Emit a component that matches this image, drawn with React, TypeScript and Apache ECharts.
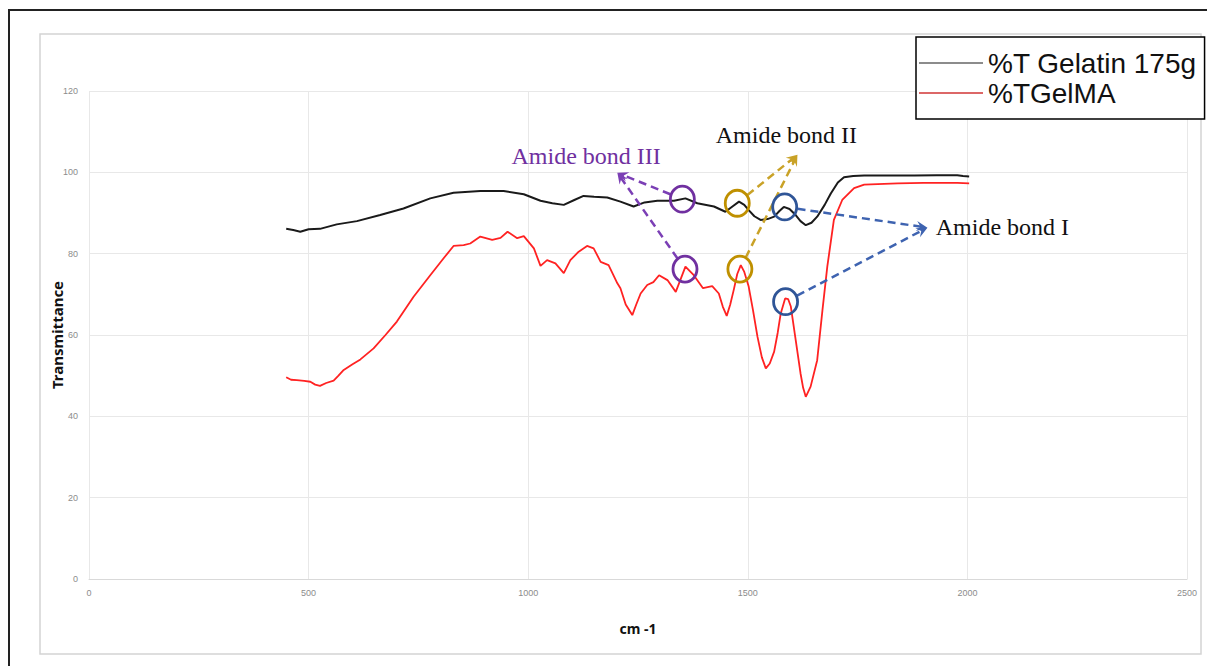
import React, { useEffect, useRef } from "react";
import * as echarts from "echarts";

// Wavenumber (cm-1) vs transmittance readings
const gelatin: [number, number][] = [
  [449, 86.1], [465, 85.8], [481, 85.4], [500, 86.0], [526, 86.1], [564, 87.2], [610, 88.0],
  [663, 89.5], [716, 91.1], [777, 93.6], [830, 95.0], [891, 95.4], [944, 95.4], [990, 94.6],
  [1028, 93.0], [1055, 92.4], [1081, 92.0], [1105, 93.2], [1126, 94.2], [1150, 94.0], [1180, 93.8],
  [1210, 92.8], [1240, 91.6], [1265, 92.6], [1294, 93.0], [1332, 93.0], [1358, 93.6], [1385, 92.4],
  [1423, 91.6], [1449, 90.3], [1465, 91.6], [1480, 92.8], [1492, 92.0], [1502, 90.7], [1515, 89.2],
  [1529, 88.3], [1545, 88.5], [1560, 89.1], [1572, 90.5], [1582, 91.5], [1595, 91.0], [1609, 89.5],
  [1620, 88.0], [1632, 87.0], [1645, 87.6], [1658, 89.1], [1675, 92.0], [1689, 94.8], [1705, 97.5],
  [1719, 98.8], [1740, 99.1], [1765, 99.2], [1820, 99.2], [1879, 99.2], [1930, 99.3], [1977, 99.3],
  [1990, 99.1], [2004, 99.0],
];

const gelma: [number, number][] = [
  [449, 49.6], [460, 49.0], [473, 48.9], [490, 48.7], [504, 48.5], [515, 47.8], [526, 47.5],
  [540, 48.2], [557, 48.8], [568, 50.0], [580, 51.4], [600, 52.8], [618, 54.0], [648, 56.7],
  [675, 60.0], [701, 63.3], [739, 69.4], [777, 74.7], [807, 78.8], [830, 81.9], [853, 82.1],
  [868, 82.5], [891, 84.2], [918, 83.4], [937, 83.9], [953, 85.4], [975, 83.8], [990, 84.3],
  [1013, 81.3], [1028, 77.0], [1043, 78.4], [1062, 77.6], [1081, 75.2], [1096, 78.4], [1115, 80.5],
  [1134, 81.9], [1149, 81.3], [1165, 78.0], [1183, 77.2], [1203, 72.7], [1210, 71.5], [1222, 67.5],
  [1237, 64.9], [1246, 67.5], [1256, 70.2], [1271, 72.3], [1285, 73.0], [1298, 74.7], [1317, 73.5],
  [1336, 70.6], [1348, 74.0], [1358, 76.8], [1377, 74.7], [1398, 71.5], [1419, 72.0], [1434, 70.2],
  [1443, 67.0], [1452, 64.7], [1460, 67.5], [1468, 71.1], [1476, 75.0], [1484, 77.2], [1492, 75.5],
  [1502, 71.9], [1512, 66.0], [1522, 59.6], [1532, 54.5], [1541, 51.8], [1550, 53.0], [1560, 55.9],
  [1568, 60.5], [1575, 65.3], [1585, 69.0], [1592, 68.8], [1598, 67.0], [1609, 58.8], [1620, 50.6],
  [1626, 47.0], [1632, 44.8], [1643, 47.3], [1658, 53.8], [1670, 66.1], [1681, 76.8], [1696, 88.3],
  [1715, 93.2], [1742, 96.1], [1765, 97.0], [1841, 97.3], [1900, 97.4], [1977, 97.4], [2004, 97.3],
];

const seriesNames = ["%T Gelatin 175g", "%TGelMA"];
const xAxisName = "cm -1";
const yAxisName = "Transmittance";

// Annotations in data coordinates
const annotLabels = ["Amide bond III", "Amide bond II", "Amide bond I"];
const annotTop: [number, number][] = [[1351, 93.4], [1476, 92.4], [1584, 91.5]];
const annotBottom: [number, number][] = [[1357, 76.2], [1482, 76.2], [1586, 68.2]];
const annotTip: [number, number][] = [[1203, 99.9], [1613, 104.3], [1909, 86.4]];
const annotLabelPos: [number, number][] = [[962, 104.0], [1427, 109.2], [1928, 86.6]];
const circleColors = ["#7030a0", "#bf9000", "#2f5597"];
const dashColors = ["#7b3fb5", "#c9a227", "#3e63b0"];
const labelColors = ["#7030a0", "#111111", "#111111"];

export default function App() {
  const ref = useRef<HTMLDivElement>(null);

  useEffect(() => {
    if (!ref.current) return;
    const chart = echarts.init(ref.current, undefined, { renderer: "svg" });
    const base: any = {
      animation: false,
      backgroundColor: "#ffffff",
      grid: { left: 89, right: 20, top: 91, bottom: 87, containLabel: false },
      legend: {
        show: true,
        orient: "vertical",
        left: 916,
        top: 37,
        padding: [11, 8, 11, 3],
        itemGap: 0,
        itemWidth: 64,
        itemHeight: 1.5,
        icon: "rect",
        borderColor: "#000",
        borderWidth: 1.5,
        backgroundColor: "#fff",
        textStyle: { fontSize: 28, fontFamily: "Liberation Sans", color: "#111", lineHeight: 30 },
      },
      xAxis: {
        type: "value",
        min: 0,
        max: 2500,
        interval: 500,
        name: xAxisName,
        nameLocation: "middle",
        nameGap: 42,
        nameMoveOverlap: false,
        nameTextStyle: { fontSize: 14, fontWeight: "bold", fontFamily: "Noto Sans", color: "#111" },
        axisLine: { show: true, lineStyle: { color: "#d9d9d9", width: 1 } },
        axisTick: { show: false },
        axisLabel: {
          color: "#8c8c8c",
          fontSize: 9,
          margin: 9,
          fontFamily: "Liberation Sans",
          formatter: (v: number) => String(v),
        },
        splitLine: { show: true, lineStyle: { color: "#e8e8e8", width: 1 } },
      },
      yAxis: {
        type: "value",
        min: 0,
        max: 120,
        interval: 20,
        name: yAxisName,
        nameLocation: "middle",
        nameGap: 25,
        nameMoveOverlap: false,
        nameRotate: 90,
        nameTextStyle: { fontSize: 15, fontWeight: "bold", fontFamily: "Noto Sans", color: "#111" },
        axisLine: { show: false },
        axisTick: { show: false },
        axisLabel: { color: "#8c8c8c", fontSize: 9, margin: 11, fontFamily: "Liberation Sans" },
        splitLine: { show: true, lineStyle: { color: "#e8e8e8", width: 1 } },
      },
      series: [
        {
          name: seriesNames[0],
          type: "line",
          data: gelatin,
          showSymbol: false,
          symbol: "none",
          lineStyle: { color: "#1a1a1a", width: 2 },
          itemStyle: { color: "#666666" },
          z: 3,
        },
        {
          name: seriesNames[1],
          type: "line",
          data: gelma,
          showSymbol: false,
          symbol: "none",
          lineStyle: { color: "#ff2222", width: 1.8 },
          itemStyle: { color: "#d03535" },
          z: 2,
        },
      ],
    };
    chart.setOption(base);

    const px = (p: [number, number]) => chart.convertToPixel({ gridIndex: 0 }, p) as number[];
    const graphics: any[] = [
      {
        type: "rect",
        silent: true,
        z: 0,
        shape: { x: 9, y: 10, width: 1240, height: 700 },
        style: { fill: "none", stroke: "#222", lineWidth: 2 },
      },
      {
        type: "rect",
        silent: true,
        z: 0,
        shape: { x: 40, y: 34, width: 1161, height: 620 },
        style: { fill: "none", stroke: "#d4d4d4", lineWidth: 1.5 },
      },
    ];

    for (let i = 0; i < annotLabels.length; i++) {
      const tip = px(annotTip[i]);
      const centers = [px(annotTop[i]), px(annotBottom[i])];
      for (const c of centers) {
        graphics.push({
          type: "ellipse",
          silent: true,
          z: 10,
          shape: { cx: c[0], cy: c[1], rx: 12, ry: 13 },
          style: { fill: "none", stroke: circleColors[i], lineWidth: 2.8 },
        });
        const dx = tip[0] - c[0];
        const dy = tip[1] - c[1];
        const len = Math.sqrt(dx * dx + dy * dy);
        const ux = dx / len;
        const uy = dy / len;
        const sx = c[0] + ux * 13;
        const sy = c[1] + uy * 13;
        graphics.push({
          type: "line",
          silent: true,
          z: 9,
          shape: { x1: sx, y1: sy, x2: tip[0] - ux * 6, y2: tip[1] - uy * 6 },
          style: { stroke: dashColors[i], lineWidth: 2.5, lineDash: [8, 5] },
        });
        const nx = -uy;
        const ny = ux;
        graphics.push({
          type: "polygon",
          silent: true,
          z: 9,
          shape: {
            points: [
              [tip[0], tip[1]],
              [tip[0] - ux * 11 + nx * 5, tip[1] - uy * 11 + ny * 5],
              [tip[0] - ux * 7, tip[1] - uy * 7],
              [tip[0] - ux * 11 - nx * 5, tip[1] - uy * 11 - ny * 5],
            ],
          },
          style: { fill: dashColors[i] },
        });
      }
      const lp = px(annotLabelPos[i]);
      graphics.push({
        type: "text",
        silent: true,
        z: 11,
        x: lp[0],
        y: lp[1],
        style: {
          text: annotLabels[i],
          fill: labelColors[i],
          font: "24px 'Liberation Serif', 'Times New Roman', serif",
          textAlign: "left",
          textVerticalAlign: "middle",
        },
      });
    }
    chart.setOption({ graphic: graphics });

    return () => chart.dispose();
  }, []);

  return (
    <div
      ref={ref}
      style={{ position: "fixed", left: 0, top: 0, width: 1207, height: 666, background: "#fff" }}
    />
  );
}
